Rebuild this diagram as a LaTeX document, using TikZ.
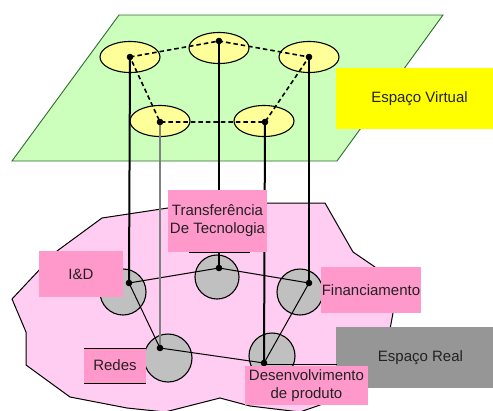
\documentclass[tikz,border=0pt]{standalone}
\usepackage{fontspec}
\setmainfont{Liberation Sans}
\usetikzlibrary{shapes.geometric}
\definecolor{virtgreen}{HTML}{CCFFBB}
\definecolor{virtedge}{HTML}{2E6B2E}
\definecolor{realpink}{HTML}{FFCCF2}
\definecolor{lblpink}{HTML}{FF99CC}
\definecolor{ellyellow}{HTML}{FFFF99}
\definecolor{circgray}{HTML}{C0C0C0}
\definecolor{realgray}{HTML}{969696}
\definecolor{virtyellow}{HTML}{FFFF00}
\definecolor{txt}{HTML}{222222}
\begin{document}
\begin{tikzpicture}[x=1pt,y=-1pt,
  font=\fontsize{15}{18}\selectfont, text=txt,
  vell/.style={ellipse, draw=black, line width=1.1pt, fill=ellyellow, minimum width=60pt, minimum height=31pt, inner sep=0pt},
  rcirc/.style={circle, draw=black, line width=1.1pt, fill=circgray, minimum size=46pt, inner sep=0pt},
  lbl/.style={fill=lblpink, inner sep=0pt, align=center},
  areabox/.style={inner sep=0pt, minimum width=157pt, minimum height=61pt},
  vdash/.style={line width=1.6pt, dash pattern=on 4.5pt off 3pt},
  rlink/.style={line width=1pt},
  vlink/.style={line width=2pt},
  thinlink/.style={line width=1.3pt, draw=black!50},
  edgebit/.style={line width=1pt}
]
\useasboundingbox (0,0) rectangle (493,410);

% virtual plane
\draw[fill=virtgreen, draw=virtedge, line width=0.9pt] (119,15) -- (443,15) -- (337,161) -- (12,161) -- cycle;

% real blob
\draw[fill=realpink, line width=1pt] (102,218) -- (201,203) -- (325,203) -- (353,252) -- (375,267) -- (393,313) -- (388,340) -- (350,392) -- (320,405) -- (300,412) -- (250,406) -- (220,398) -- (165,412) -- (127,408) -- (70,397) -- (26,365) -- (26,332) -- (12,299) -- (57,251) -- cycle;

% virtual ellipses
\node[vell] (v1) at (130,57) {};
\node[vell] (v2) at (219,48) {};
\node[vell] (v3) at (309,57) {};
\node[vell] (v4) at (160,121) {};
\node[vell] (v5) at (264,121) {};
\coordinate (dv1) at (130,57);
\coordinate (dv2) at (219,41);
\coordinate (dv3) at (309,57);
\coordinate (dv4) at (160,122);
\coordinate (dv5) at (265,122);

\draw[vdash] (dv1) -- (dv2) -- (dv3) -- (dv5) -- (dv4) -- (dv1);

% real circles
\node[rcirc] (r1) at (123,292) {};
\node[rcirc, minimum size=44pt] (r2) at (217,277) {};
\node[rcirc] (r3) at (300,292) {};
\node[rcirc, minimum size=48pt] (r4) at (168,358) {};
\node[rcirc] (r5) at (272,356) {};
\coordinate (dr1) at (129,283);
\coordinate (dr2) at (219,268);
\coordinate (dr3) at (309,283);
\coordinate (dr4) at (160,348);
\coordinate (dr5) at (264,363);

\draw[rlink] (dr1) -- (dr2) -- (dr3) -- (dr5) -- (dr4) -- (dr1);

% vertical links
\draw[vlink] (dv1) -- (dr1);
\draw[vlink] (dv2) -- (dr2);
\draw[vlink] (dv3) -- (dr3);
\draw[vlink] (dv5) -- (dr5);
\draw[thinlink] (dv4) -- (dr4);

% dots
\foreach \p in {dv1,dv2,dv3,dv4,dv5,dr1,dr2,dr3,dr4,dr5}
  \fill (\p) circle (3.3);

% area boxes
\node[areabox, fill=virtyellow] (bv) at (414.5,98.5) {};
\node (tv) at ([xshift=5pt]bv.center) {Espaço Virtual};
\node[areabox, fill=realgray] (br) at (414.5,357.5) {};
\node (tr) at ([xshift=6pt]br.center) {Espaço Real};

% small edge bits of label frames
\draw[edgebit] (189,252) -- (250,252);
\draw[edgebit] (84,348) -- (146,348);
\draw[edgebit] (84,383) -- (146,383);
\draw[edgebit] (264,364) -- (337,364);

% labels
\node[lbl, minimum width=84pt, minimum height=46pt] (lid) at (81,274) {I\&D};
\node[lbl, minimum width=99pt, minimum height=62pt] (ltt) at (217.5,221) {Transferência\\De Tecnologia};
\node[lbl, minimum width=100pt, minimum height=46pt] (lfi) at (371,290) {Financiamento};
\node[lbl, minimum width=62pt, minimum height=34pt] (lre) at (115,365.5) {Redes};
\node[lbl, minimum width=123pt, minimum height=39pt] (lde) at (306.5,385.5) {Desenvolvimento\\de produto};
\end{tikzpicture}
\end{document}
